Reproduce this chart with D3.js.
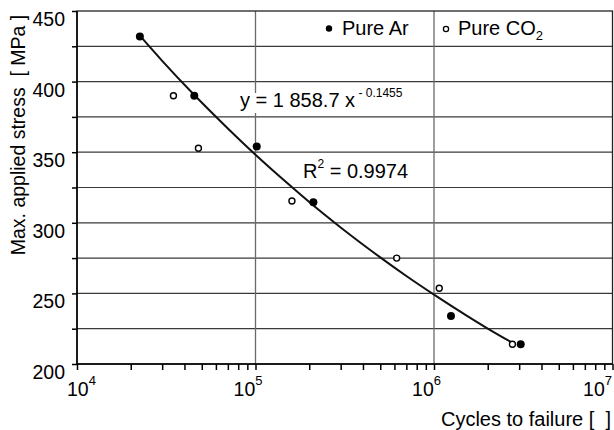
<!DOCTYPE html>
<html>
<head>
<meta charset="utf-8">
<script src="https://cdn.jsdelivr.net/npm/d3@7"></script>
<style>
  body { margin: 0; background: #fff; }
  svg text { font-family: "Liberation Sans", Arial, sans-serif; fill: #000; }
</style>
</head>
<body>
<svg id="chart" width="614" height="430"></svg>
<script>
// data
var arCycles = [22500, 45400, 101600, 211000, 1245000, 3060000];
var arStress = [432, 390, 354, 314.5, 234, 214];
var co2Cycles = [34700, 47900, 160000, 618000, 1070000, 2750000];
var co2Stress = [390, 352.8, 315.4, 275, 253.6, 214];
// trend line, points
var fitCycles = [22500, 30000, 45000, 70000, 100000, 150000, 200000, 300000, 500000, 700000, 1000000, 1500000, 2000000, 2750000];
var fitStress = [432.5, 414.7, 391, 366.8, 348.2, 328.3, 314.7, 296.7, 275.5, 262.3, 249.1, 234.8, 225.1, 215];
var yTicks = [200, 250, 300, 350, 400, 450];
var yGrid = [225, 250, 275, 300, 325, 350, 375, 400, 425];
var xMajor = [1e4, 1e5, 1e6, 1e7];
var xExp = ["4", "5", "6", "7"];

var svg = d3.select("#chart");
var pl = 77, pr = 612.5, pt = 11, pb = 364;

var x = d3.scaleLog().domain([1e4, 1e7]).range([pl, pr]);
var y = d3.scaleLinear().domain([200, 450]).range([pb, pt]);

// horizontal grid
svg.selectAll(".hgrid").data(yGrid).enter().append("line")
  .attr("x1", pl).attr("x2", pr)
  .attr("y1", function(d) { return y(d); }).attr("y2", function(d) { return y(d); })
  .attr("stroke", "#3a3a3a").attr("stroke-width", 1.2);

// vertical grid
svg.selectAll(".vgrid").data([1e5, 1e6]).enter().append("line")
  .attr("x1", function(d) { return x(d); }).attr("x2", function(d) { return x(d); })
  .attr("y1", pt).attr("y2", pb)
  .attr("stroke", "#6a6a6a").attr("stroke-width", 1.3);

// box
svg.append("rect").attr("x", pl).attr("y", pt)
  .attr("width", pr - pl).attr("height", pb - pt)
  .attr("fill", "none").attr("stroke", "#222").attr("stroke-width", 1.3);

// y axis
var yAxis = d3.axisLeft(y).tickValues(d3.range(200, 451, 25)).tickSize(5).tickFormat("");
svg.append("g").attr("transform", "translate(" + pl + ",0)").call(yAxis)
  .call(function(g) { g.selectAll("line, path").attr("stroke", "#000").attr("stroke-width", 1.5); g.select(".domain").attr("d", "M0," + pt + "V" + pb); });

svg.selectAll(".ylab").data(yTicks).enter().append("text")
  .attr("x", 65).attr("y", function(d) { return y(d) + 15; })
  .attr("text-anchor", "end").style("font-size", "19.5px")
  .text(function(d) { return d; });

// x axis with log minor ticks
var xTickVals = [];
[1e4, 1e5, 1e6].forEach(function(dec) { for (var k = 1; k < 10; k++) xTickVals.push(dec * k); });
xTickVals.push(1e7);
var xAxis = d3.axisBottom(x).tickValues(xTickVals).tickSize(6).tickFormat("");
svg.append("g").attr("transform", "translate(0," + pb + ")").call(xAxis)
  .call(function(g) { g.selectAll("line, path").attr("stroke", "#000").attr("stroke-width", 1.5); g.select(".domain").attr("d", "M" + pl + ",0H" + pr); });

svg.selectAll(".xlab").data(xMajor).enter().append("text")
  .attr("x", function(d, i) { return i === 0 ? x(d) - 10 : Math.min(x(d) + 7, 612); })
  .attr("y", 396)
  .attr("text-anchor", function(d, i) { return i === 0 ? "start" : "end"; })
  .style("font-size", "19.5px")
  .each(function(d, i) {
    var t = d3.select(this);
    t.append("tspan").text("10");
    t.append("tspan").attr("dy", -11).style("font-size", "13px").text(xExp[i]);
  });

// axis titles
svg.append("text").attr("x", 611).attr("y", 426).attr("text-anchor", "end")
  .style("font-size", "20px").attr("xml:space", "preserve")
  .text("Cycles to failure [  ]");
svg.append("text").attr("transform", "translate(25,135) rotate(-90)")
  .attr("text-anchor", "middle").style("font-size", "19.5px").attr("xml:space", "preserve")
  .text("Max. applied stress  [ MPa ]");

// equation label with white backing
svg.append("rect").attr("x", 238).attr("y", 93).attr("width", 178).attr("height", 20).attr("fill", "#fff");
var eq = svg.append("text").attr("x", 240).attr("y", 107).style("font-size", "20px").attr("xml:space", "preserve");
eq.append("tspan").text("y = 1 858.7 x");
eq.append("tspan").attr("dy", -10).style("font-size", "12px").text(" - 0.1455");

var r2 = svg.append("text").attr("x", 303).attr("y", 178).style("font-size", "20px").attr("xml:space", "preserve");
r2.append("tspan").text("R");
r2.append("tspan").attr("dy", -10).style("font-size", "12px").text("2");
r2.append("tspan").attr("dy", 10).text(" = 0.9974");

// fit line
var fit = fitCycles.map(function(c, i) { return [c, fitStress[i]]; });
svg.append("path").datum(fit)
  .attr("d", d3.line().curve(d3.curveMonotoneX).x(function(d) { return x(d[0]); }).y(function(d) { return y(d[1]); }))
  .attr("fill", "none").attr("stroke", "#111").attr("stroke-width", 2);

// points
svg.selectAll(".co2").data(co2Cycles).enter().append("circle")
  .attr("cx", function(d) { return x(d); }).attr("cy", function(d, i) { return y(co2Stress[i]); })
  .attr("r", 3).attr("fill", "#fff").attr("stroke", "#000").attr("stroke-width", 1.4);
svg.selectAll(".ar").data(arCycles).enter().append("circle")
  .attr("cx", function(d) { return x(d); }).attr("cy", function(d, i) { return y(arStress[i]); })
  .attr("r", 4).attr("fill", "#000");

// legend
svg.append("circle").attr("cx", 329).attr("cy", 28.5).attr("r", 3.2).attr("fill", "#000");
svg.append("text").attr("x", 342).attr("y", 35).style("font-size", "20px").text("Pure Ar");
svg.append("circle").attr("cx", 446).attr("cy", 29).attr("r", 2.6).attr("fill", "#fff").attr("stroke", "#000").attr("stroke-width", 1.3);
var lg = svg.append("text").attr("x", 458).attr("y", 35).style("font-size", "20px");
lg.append("tspan").text("Pure CO");
lg.append("tspan").attr("dy", 5).style("font-size", "13px").text("2");
</script>
</body>
</html>
